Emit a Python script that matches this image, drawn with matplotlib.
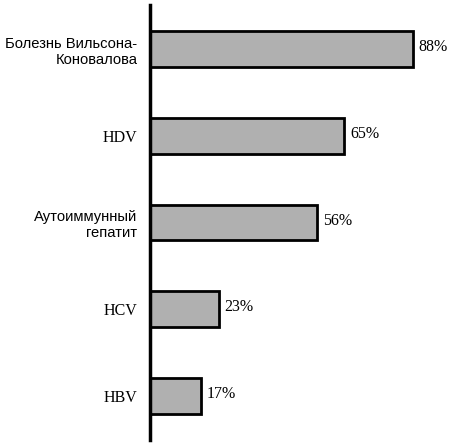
import matplotlib
matplotlib.use("Agg")
import matplotlib.pyplot as plt

categories = ["Болезнь Вильсона-\nКоновалова", "HDV", "Аутоиммунный\nгепатит", "HCV", "HBV"]
values = [88, 65, 56, 23, 17]
value_labels = ["88%", "65%", "56%", "23%", "17%"]

fig = plt.figure(figsize=(4.5, 4.43), dpi=100)
ax = fig.add_axes([150/450, 3/443, 299/450, 435/443])

pos = list(range(len(categories)))
ax.barh(pos, values, height=0.415, color="#b0b0b0", edgecolor="black", linewidth=2.0, zorder=2)
ax.set_xlim(0, 100)
ax.set_ylim(4.51, -0.51)

for p, v, lab in zip(pos, values, value_labels):
    ax.text(v + 1.9, p - 0.02, lab, va="center", ha="left", fontsize=11.5,
            family="Liberation Serif", color="black")

ax.set_yticks(pos)
ax.set_yticklabels(categories, fontsize=10.6, family="Liberation Sans", ha="right")
for t in ax.get_yticklabels():
    if t.get_text().isascii():
        t.set_family("Liberation Serif")
        t.set_fontsize(11.5)
ax.tick_params(axis="y", length=0, pad=9)
ax.set_xticks([])
for s in ["top", "right", "bottom"]:
    ax.spines[s].set_visible(False)
ax.spines["left"].set_linewidth(2.5)
ax.spines["left"].set_zorder(3)

fig.savefig("out.png", dpi=100)
